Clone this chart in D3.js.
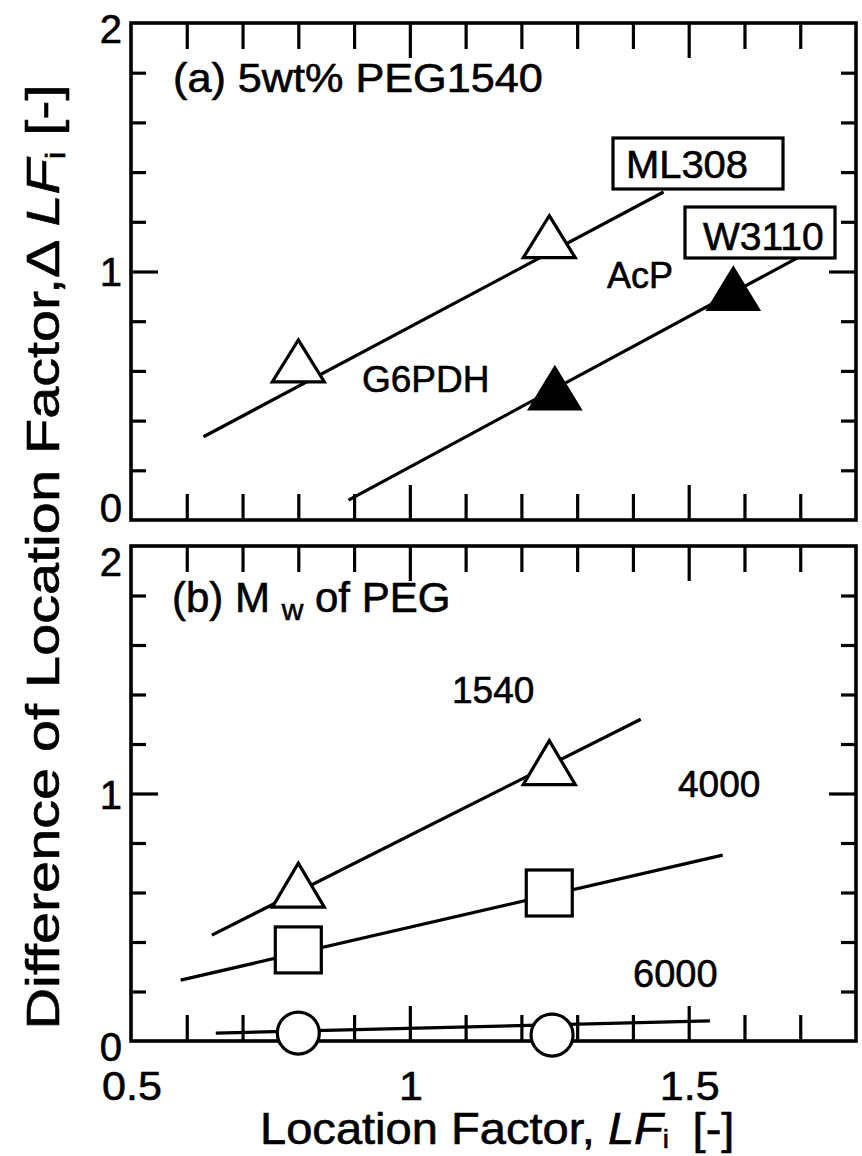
<!DOCTYPE html>
<html>
<head>
<meta charset="utf-8">
<script src="https://cdn.jsdelivr.net/npm/d3@7"></script>
<style>
  html, body { margin: 0; padding: 0; background: #fff; }
  svg { display: block; font-family: "Liberation Sans", Arial, Helvetica, sans-serif; }
  svg text { stroke: #000; stroke-width: 0.6px; }
</style>
</head>
<body>
<svg id="chart" width="862" height="1156"></svg>
<script>
// ---- data ----------------------------------------------------------------
// panel (a): 5wt% PEG1540, two strains
const ml308X = [0.8, 1.25];
const ml308Y = [0.64, 1.14];
const w3110X = [1.26, 1.58];
const w3110Y = [0.53, 0.93];
const ml308FitX = [0.63, 1.455];
const ml308FitY = [0.335, 1.32];
const w3110FitX = [0.89, 1.695];
const w3110FitY = [0.08, 1.055];

// panel (b): molecular weight of PEG
const peg1540X = [0.8, 1.25];
const peg1540Y = [0.63, 1.125];
const peg4000X = [0.8, 1.25];
const peg4000Y = [0.368, 0.598];
const peg6000X = [0.8, 1.255];
const peg6000Y = [0.032, 0.024];
const peg1540FitX = [0.645, 1.414];
const peg1540FitY = [0.428, 1.30];
const peg4000FitX = [0.589, 1.561];
const peg4000FitY = [0.246, 0.751];
const peg6000FitX = [0.652, 1.538];
const peg6000FitY = [0.032, 0.081];

// axis ticks
const xMinorTicks = [0.6, 0.7, 0.8, 0.9, 1.1, 1.2, 1.3, 1.4, 1.6, 1.7];
const xMajorTicks = [1.0, 1.5];
const xTickValues = [0.5, 1.0, 1.5];
const xTickLabels = ["0.5", "1", "1.5"];
const yMinorTicks = [0.2, 0.4, 0.6, 0.8, 1.2, 1.4, 1.6, 1.8];
const yMajorTicks = [1.0];
const yTickValues = [0, 1, 2];
const yTickLabels = ["0", "1", "2"];

// ---- layout ----------------------------------------------------------------
const svg = d3.select("#chart");
const SW = 3.2;
const FONT = 'Liberation Sans, Arial, Helvetica, sans-serif';

const x = d3.scaleLinear().domain([0.5, 1.8]).range([131, 856]);
const yA = d3.scaleLinear().domain([0, 2]).range([520, 23]);
const yB = d3.scaleLinear().domain([0, 2]).range([1041, 546]);

function label(parent, px, py, str, size, opts = {}) {
  const sx = opts.sx || 1;
  const t = parent.append("text")
    .attr("transform", `translate(${px},${py}) scale(${sx},1)`)
    .attr("font-size", size)
    .attr("font-family", FONT)
    .attr("fill", "#000")
    .attr("text-anchor", opts.anchor || "start");
  if (opts.italic) t.attr("font-style", "italic");
  t.text(str);
  return t;
}

function styleAxis(g) {
  g.select(".domain").remove();
  g.selectAll(".tick line").attr("stroke", "#000").attr("stroke-width", SW);
  g.selectAll(".tick text").remove();
}

function panel(y, yLabelShift) {
  const [r0, r1] = [x.range()[0], x.range()[1]];
  const [b, t] = [y.range()[0], y.range()[1]];
  const g = svg.append("g");

  // tick marks on all four sides, pointing inward
  g.append("g").attr("transform", `translate(0,${b})`)
    .call(d3.axisBottom(x).tickValues(xMinorTicks).tickSize(-26)).call(styleAxis);
  g.append("g").attr("transform", `translate(0,${b})`)
    .call(d3.axisBottom(x).tickValues(xMajorTicks).tickSize(-35)).call(styleAxis);
  g.append("g").attr("transform", `translate(0,${t})`)
    .call(d3.axisTop(x).tickValues(xMinorTicks).tickSize(-26)).call(styleAxis);
  g.append("g").attr("transform", `translate(0,${t})`)
    .call(d3.axisTop(x).tickValues(xMajorTicks).tickSize(-35)).call(styleAxis);
  g.append("g").attr("transform", `translate(${r0},0)`)
    .call(d3.axisLeft(y).tickValues(yMinorTicks).tickSize(-15)).call(styleAxis);
  g.append("g").attr("transform", `translate(${r0},0)`)
    .call(d3.axisLeft(y).tickValues(yMajorTicks).tickSize(-27)).call(styleAxis);
  g.append("g").attr("transform", `translate(${r1},0)`)
    .call(d3.axisRight(y).tickValues(yMinorTicks).tickSize(-15)).call(styleAxis);
  g.append("g").attr("transform", `translate(${r1},0)`)
    .call(d3.axisRight(y).tickValues(yMajorTicks).tickSize(-27)).call(styleAxis);

  // frame
  g.append("rect")
    .attr("x", r0).attr("y", t)
    .attr("width", r1 - r0).attr("height", b - t)
    .attr("fill", "none").attr("stroke", "#000").attr("stroke-width", SW + 0.4);

  // y tick labels
  yTickValues.forEach((v, i) => {
    label(g, 122, y(v) + 14 + yLabelShift[i], yTickLabels[i], 40, { anchor: "end" });
  });
  return g;
}

const gA = panel(yA, [-12, 0, 6]);
const gB = panel(yB, [6, 1, 16]);

// x tick labels under the lower panel
xTickValues.forEach((v, i) => {
  label(svg, x(v) + 1, 1100, xTickLabels[i], 41, { anchor: "middle", sx: 1.05 });
});

// ---- marks -----------------------------------------------------------------
function fitLine(g, y, xs, ys) {
  g.append("path")
    .datum(xs.map((d, i) => [d, ys[i]]))
    .attr("d", d3.line().x(d => x(d[0])).y(d => y(d[1])))
    .attr("fill", "none").attr("stroke", "#000").attr("stroke-width", SW);
}

function triangles(g, y, xs, ys, w, h, filled) {
  g.selectAll(null).data(xs.map((d, i) => [d, ys[i]])).enter()
    .append("path")
    .attr("d", d => {
      const cx = x(d[0]), cy = y(d[1]);
      return `M${cx},${cy - h / 2}L${cx + w / 2},${cy + h / 2}L${cx - w / 2},${cy + h / 2}Z`;
    })
    .attr("fill", filled ? "#000" : "#fff")
    .attr("stroke", "#000").attr("stroke-width", SW).attr("stroke-linejoin", "miter");
}

function squares(g, y, xs, ys, s) {
  g.selectAll(null).data(xs.map((d, i) => [d, ys[i]])).enter()
    .append("rect")
    .attr("x", d => x(d[0]) - s / 2).attr("y", d => y(d[1]) - s / 2)
    .attr("width", s).attr("height", s)
    .attr("fill", "#fff").attr("stroke", "#000").attr("stroke-width", SW);
}

function circles(g, y, xs, ys, r) {
  g.selectAll(null).data(xs.map((d, i) => [d, ys[i]])).enter()
    .append("circle")
    .attr("cx", d => x(d[0])).attr("cy", d => y(d[1])).attr("r", r)
    .attr("fill", "#fff").attr("stroke", "#000").attr("stroke-width", SW);
}

function boxedLabel(g, bx, by, bw, bh, str, tx, ty, size, sx) {
  g.append("rect").attr("x", bx).attr("y", by).attr("width", bw).attr("height", bh)
    .attr("fill", "#fff").attr("stroke", "#000").attr("stroke-width", SW);
  label(g, tx, ty, str, size, { sx });
}

// panel (a)
fitLine(gA, yA, ml308FitX, ml308FitY);
fitLine(gA, yA, w3110FitX, w3110FitY);
triangles(gA, yA, ml308X, ml308Y, 52, 42, false);
triangles(gA, yA, w3110X, w3110Y, 50, 41, true);
boxedLabel(gA, 613, 138, 170, 51, "ML308", 626, 178, 38, 1.05);
boxedLabel(gA, 685, 207, 150, 51, "W3110", 703, 250, 39, 1.0);
label(gA, 607, 288, "AcP", 36);
label(gA, 362, 392, "G6PDH", 37);
label(gA, 173, 92, "(a) 5wt% PEG1540", 40, { sx: 1.08 });

// panel (b)
fitLine(gB, yB, peg1540FitX, peg1540FitY);
fitLine(gB, yB, peg4000FitX, peg4000FitY);
fitLine(gB, yB, peg6000FitX, peg6000FitY);
triangles(gB, yB, peg1540X, peg1540Y, 52, 44, false);
squares(gB, yB, peg4000X, peg4000Y, 46);
circles(gB, yB, peg6000X, peg6000Y, 21);
label(gB, 452, 703, "1540", 37);
label(gB, 678, 797, "4000", 37);
label(gB, 633, 987, "6000", 38);

const bt = gB.append("text")
  .attr("transform", "translate(172,612)")
  .attr("font-size", 42).attr("font-family", FONT).attr("fill", "#000");
bt.append("tspan").text("(b) M ");
bt.append("tspan").attr("font-size", 30).attr("dy", 8).text("w");
bt.append("tspan").attr("dy", -8).text(" of PEG");

// ---- axis titles -------------------------------------------------------------
const xt = svg.append("text")
  .attr("transform", "translate(260,1144) scale(1.07,1)")
  .attr("font-size", 44).attr("font-family", FONT).attr("fill", "#000");
xt.append("tspan").text("Location Factor, ");
xt.append("tspan").attr("font-style", "italic").text("LF");
xt.append("tspan").attr("font-size", 26).attr("dy", 4).text("i");
xt.append("tspan").attr("dy", -4).attr("dx", 22).text("[-]");

const yt = svg.append("text")
  .attr("transform", "translate(59,557) rotate(-90)")
  .attr("text-anchor", "middle")
  .attr("font-size", 47).attr("font-family", FONT).attr("fill", "#000")
  .attr("textLength", 945).attr("lengthAdjust", "spacingAndGlyphs");
yt.append("tspan").text("Difference of Location Factor,\u0394 ");
yt.append("tspan").attr("font-style", "italic").text("LF");
yt.append("tspan").attr("font-size", 28).attr("dy", 6).text("i");
yt.append("tspan").attr("dy", -6).text(" [-]");
</script>
</body>
</html>
